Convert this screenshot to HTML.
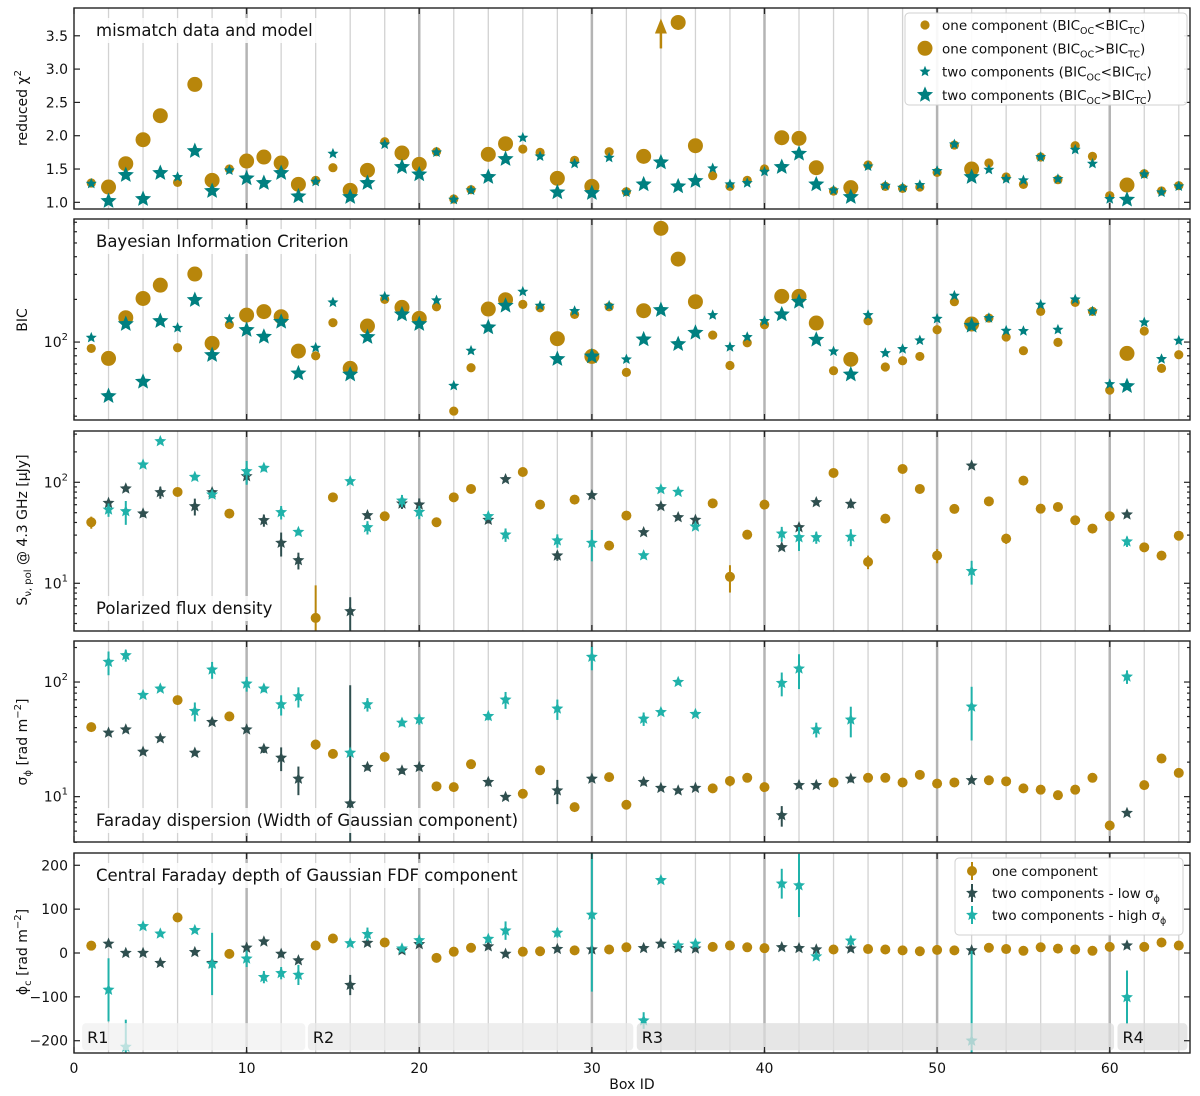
<!DOCTYPE html>
<html><head><meta charset="utf-8"><style>
html,body{margin:0;padding:0;background:#fff;}
svg{display:block;font-family:"DejaVu Sans","Liberation Sans",sans-serif;}
</style></head><body>
<svg id="chart" xmlns="http://www.w3.org/2000/svg" width="1200" height="1096" viewBox="0 0 1200 1096"></svg>
<script>
// ---------- data ----------
const boxes = Array.from({length:64},(_,i)=>i+1);
const twoBoxes = [2,3,4,5,7,8,10,11,12,13,16,17,19,20,24,25,28,30,33,34,35,36,41,42,43,45,52,61];
const oneBoxes = [1,6,9,14,15,18,21,22,23,26,27,29,31,32,37,38,39,40,44,46,47,48,49,50,51,53,54,55,56,57,58,59,60,62,63,64];
const chiOne = [1.29,1.23,1.58,1.94,2.30,1.30,2.77,1.33,1.50,1.62,1.68,1.59,1.27,1.33,1.52,1.18,1.48,1.91,1.74,1.57,1.76,1.05,1.19,1.72,1.88,1.80,1.75,1.36,1.63,1.24,1.76,1.16,1.69,null,3.70,1.85,1.40,1.24,1.33,1.50,1.97,1.96,1.52,1.17,1.22,1.56,1.24,1.21,1.23,1.45,1.86,1.50,1.59,1.38,1.27,1.68,1.34,1.85,1.69,1.10,1.26,1.43,1.17,1.25];
const chiTwo = [1.28,1.02,1.41,1.05,1.44,1.38,1.77,1.17,1.48,1.36,1.29,1.44,1.09,1.31,1.73,1.08,1.29,1.87,1.53,1.42,1.75,1.04,1.18,1.38,1.65,1.97,1.69,1.15,1.58,1.14,1.67,1.15,1.27,1.60,1.24,1.32,1.51,1.27,1.29,1.46,1.53,1.73,1.27,1.18,1.08,1.54,1.25,1.22,1.26,1.47,1.87,1.38,1.49,1.35,1.33,1.68,1.35,1.79,1.58,1.05,1.04,1.42,1.15,1.24];
const chiArrowBox = 34;
const chiArrowFrom = 3.31;
const chiArrowTo = 3.76;
const bicOne = [90.2,76.7,148.5,203,252,91.2,302,97.9,133,155,164,151,86.4,80,137,65.2,129.7,200,175.6,147,177.5,32.6,65.9,171,199,184.5,174.7,105.6,156.7,79.2,177.5,61.1,166.4,634,385,192.6,112,68.4,98.9,132.6,210,210,136.2,62.8,75.5,141.4,66.7,73.8,79.2,122.2,192.6,134,147.7,108.5,86.9,164.6,99.5,190.5,164.6,45.8,83.2,119.6,65.2,81.4];
const bicTwo = [107.3,41.6,134,52.5,140.7,126,198,81,145,121.6,109,139,60.1,91.2,190.5,59.1,108.5,209,156.7,134,197,49.2,86.9,126.9,180.5,226.6,180.5,75.9,165.5,79.2,180.5,75.5,104.4,168.2,96.8,116.4,155,92.2,108.5,140.7,156.7,192.6,103.9,85.9,59.1,155,83.6,89.3,102.7,146,212.4,130.4,147.7,120.2,119.6,183.4,122.2,200,164.6,50.5,48.9,137.6,75.9,102.2];
const fluxOne = [40.2,80.2,49.0,4.54,71.0,46.1,40.2,71.0,85.9,126.5,60.1,67.4,23.6,46.8,61.9,11.6,30.3,60.1,123.7,16.3,43.7,135.5,85.9,18.8,54.5,64.8,27.7,103.9,54.8,57.0,42.1,34.8,46.1,22.7,18.8,29.6];
const fluxOneErr = [5.5,3.7,3,5,2.7,2.8,1.8,3.2,3.9,4.8,2.7,2.6,1.1,1.8,2.8,3.5,2.8,2.7,4.7,2.5,2,5.1,3.9,3,2.1,3,3.2,4.7,2.5,2.6,2.6,1.6,1.8,0.9,0.7,1.4];
const fluxLow = [62.4,86.6,49.0,79.6,57.9,79.6,114.7,42.1,25.1,16.9,5.28,47.1,61.5,60.1,42.4,107.1,18.8,74.3,32.0,57.9,45.0,42.4,22.7,35.8,63.4,61.0,146.2,47.9];
const fluxLowErr = [4.7,4,3.7,10.9,11,6,17.4,5.8,6.7,3.2,2,3.6,7,9.1,3.2,4,2.1,2.3,1.2,2.6,1.7,1.9,0.9,1.6,2.4,5.6,6.7,1.5];
const fluxHigh = [53.6,51.6,149.6,254.7,112.9,75.5,128.5,138.7,50.5,32.2,102.3,35.8,65.8,50.8,46.1,30.3,26.5,25.1,18.9,85.2,80.2,36.4,31.0,28.5,28.5,28.8,13.2,25.9];
const fluxHighErr = [8.1,13.7,6.8,9.7,8.6,5.7,34,10.5,7.7,2.4,3.9,5.4,9,7.7,3.5,4.6,4,8.6,1.4,3.2,3,1.7,5.2,7.6,3.9,5.5,3.5,3];
const sigOne = [40.4,69.6,50.1,28.5,23.6,22.2,12.3,12.1,19.2,10.6,17.0,8.1,14.8,8.5,11.8,13.7,14.6,12.1,13.3,14.6,14.6,13.3,15.5,13.0,13.3,13.9,13.6,11.8,11.5,10.3,11.5,14.6,5.6,12.6,21.5,16.1];
const sigOneErr = [2.2,3.7,2.7,2.9,1,1.2,0.7,0.7,1,0.6,0.9,0.4,0.8,0.5,0.6,1.4,0.8,0.7,0.7,0.8,0.8,0.7,0.8,0.9,0.7,0.7,0.7,0.6,0.6,0.6,0.6,0.8,0.5,0.7,1.2,0.9];
const sigLow = [36.1,38.5,24.6,32.2,24.1,44.7,38.5,26.1,21.8,14.3,8.7,18.1,16.9,18.1,13.4,9.93,11.3,14.3,13.4,11.9,11.3,11.9,6.87,12.6,12.6,14.3,13.9,7.2];
const sigLowErr = [1.9,2.1,1.3,1.7,1,2.4,2.1,2.1,5.1,4,85,1.2,1.1,1.2,1.1,0.4,2.7,0.8,0.9,0.5,0.5,0.5,1.4,0.5,0.5,1,0.6,0.4];
const sigHigh = [149.6,171,77,87.4,55.8,128.2,96.7,87.4,63.8,74.9,24.1,63.8,44.1,47.2,50.4,70.1,58.5,165.5,47.8,54.6,100,52.5,98,130.8,38.5,46.9,60.9,111.3];
const sigHighErr = [35,20.6,3.1,3.5,10.5,21.5,14.3,5.9,12.8,15,1,8.6,3,4.8,4.1,11.8,11.8,38.9,6.4,2.2,4,2.1,23,44,5.7,14,30,15];
const phiOne = [16.7,81,-2,17,33,24,-11,3,12,3,4,6,8,13,14,17,13,11,8,9,8,6,4,7,6,12,9,5,13,10,8,5,14,14,24,17];
const phiLow = [21,0,0,-23,2,-23,12,26,-2,-17,-73,23,6,20,15,-2,9,8,11,21,11,10,13,11,8,10,6,17];
const phiLowErr = [6,6,6,6,6,6,8,6,8,6,23,6,4,4,5,4,4,4,4,4,4,4,4,4,4,4,4,5];
const phiHigh = [-84,-214,61,44,52,-25,-13,-55,-46,-50,22,43,10,29,32,51,46,87,-154,166,17,21,158,154,-8,28,-200,-101];
const phiHighErr = [72,62,6,5,6,71,19,14,14,23,5,15,5,6,8,21,11,175,19,5,6,8,34,72,6,11,205,61];
const regionNames = ['R1','R2','R3','R4'];
const regionStart = [0.47,13.55,32.6,60.45];
const regionEnd = [13.4,32.4,60.25,64.5];
const xTicks = [0,10,20,30,40,50,60];

// ---------- helpers ----------
const NS='http://www.w3.org/2000/svg';
const svg=document.getElementById('chart');
function mk(tag,attrs,parent){const e=document.createElementNS(NS,tag);for(const k in attrs)e.setAttribute(k,attrs[k]);(parent||svg).appendChild(e);return e;}
const X0=74, X1=1190, XMAX=64.65;
function xs(v){return X0+v/XMAX*(X1-X0);}
const P=[
 {top:8,bot:209,type:'lin',min:0.90,max:3.917},
 {top:219,bot:420,type:'log',min:28.2,max:738},
 {top:431,bot:631,type:'log',min:3.37,max:322},
 {top:641,bot:842,type:'log',min:4.02,max:228},
 {top:853,bot:1053,type:'lin',min:-228,max:228}];
function ys(p,v){
  if(p.type==='lin') return p.bot-(v-p.min)/(p.max-p.min)*(p.bot-p.top);
  if(v<=0) v=p.min*0.5;
  return p.bot-(Math.log10(v)-Math.log10(p.min))/(Math.log10(p.max)-Math.log10(p.min))*(p.bot-p.top);
}
function starPath(cx,cy,r){let d='';for(let i=0;i<10;i++){const a=-Math.PI/2+i*Math.PI/5;const rr=i%2?r*0.45:r;d+=(i?'L':'M')+(cx+rr*Math.cos(a)).toFixed(2)+' '+(cy+rr*Math.sin(a)).toFixed(2);}return d+'Z';}
const GOLD='#b8860b', TEAL='#008080', DARK='#2f4f4f', CYAN='#20b2aa';

function circle(g,cx,cy,r,col,name){
  const c=mk('circle',{cx:cx,cy:cy,r:r,fill:col},g);
  
  
  return c;
}
function star(g,cx,cy,r,col,name){
  const s=mk('path',{d:starPath(cx,cy,r),fill:col},g);
  
  
  return s;
}
function errbar(g,p,x,v,e,col,name){
  const y1=ys(p,v+e), y2=ys(p,Math.max(v-e,p.type==='log'?p.min*0.5:v-e));
  const l=mk('line',{x1:x,x2:x,y1:y1,y2:y2,stroke:col,'stroke-width':2},g);
  
  
}

// ---------- panels ----------
const panelNames=['reduced-chi2-panel','bic-panel','polarized-flux-panel','faraday-dispersion-panel','faraday-depth-panel'];
const groups=[];
P.forEach((p,i)=>{
  const cp=mk('clipPath',{id:'clip'+i});
  mk('rect',{x:X0,y:p.top,width:X1-X0,height:p.bot-p.top},cp);
  const g=mk('g',{});
  
  
  const inner=mk('g',{'clip-path':'url(#clip'+i+')'},g);
  // gridlines
  for(let b=2;b<=64;b+=2){
    const thick=b%10===0;
    const gl=mk('line',{x1:xs(b),x2:xs(b),y1:p.top,y2:p.bot,stroke:thick?'#b4b4b4':'#d2d2d2','stroke-width':thick?2.5:1.3},inner);
    
    
  }
  groups.push({g:g,inner:inner});
});

// panel 1: reduced chi2
(function(){
  const p=P[0], g=groups[0].inner;
  boxes.forEach((b,i)=>{
    const big=twoBoxes.includes(b);
    if(chiOne[i]!==null) circle(g,xs(b),ys(p,chiOne[i]),big?7.5:4.6,GOLD,'chi2-one-component-b'+b);
    star(g,xs(b),ys(p,chiTwo[i]),big?8.5:5.8,TEAL,'chi2-two-components-b'+b);
  });
  const ax=xs(chiArrowBox), yt=ys(p,chiArrowTo), yb=ys(p,chiArrowFrom);
  const ar=mk('g',{},g);
  
  
  mk('line',{x1:ax,x2:ax,y1:yb,y2:yt+14,stroke:GOLD,'stroke-width':2.5},ar);
  mk('path',{d:`M${ax} ${yt} L${ax-6} ${yt+15} L${ax+6} ${yt+15}Z`,fill:GOLD},ar);
})();

// panel 2: BIC
(function(){
  const p=P[1], g=groups[1].inner;
  boxes.forEach((b,i)=>{
    const big=twoBoxes.includes(b);
    circle(g,xs(b),ys(p,bicOne[i]),big?7.5:4.6,GOLD,'bic-one-component-b'+b);
    star(g,xs(b),ys(p,bicTwo[i]),big?8.5:5.8,TEAL,'bic-two-components-b'+b);
  });
})();

function drawThree(k,one,oneE,low,lowE,high,highE,pre){
  const p=P[k], g=groups[k].inner;
  oneBoxes.forEach((b,i)=>{
    errbar(g,p,xs(b),one[i],oneE[i],GOLD,pre+'-one-err-b'+b);
    circle(g,xs(b),ys(p,one[i]),5,GOLD,pre+'-one-component-b'+b);
  });
  twoBoxes.forEach((b,i)=>{
    errbar(g,p,xs(b),low[i],lowE[i],DARK,pre+'-low-err-b'+b);
    star(g,xs(b),ys(p,low[i]),6.3,DARK,pre+'-two-low-b'+b);
    errbar(g,p,xs(b),high[i],highE[i],CYAN,pre+'-high-err-b'+b);
    star(g,xs(b),ys(p,high[i]),6.3,CYAN,pre+'-two-high-b'+b);
  });
}
drawThree(2,fluxOne,fluxOneErr,fluxLow,fluxLowErr,fluxHigh,fluxHighErr,'flux');
drawThree(3,sigOne,sigOneErr,sigLow,sigLowErr,sigHigh,sigHighErr,'sigma');
drawThree(4,phiOne,oneBoxes.map(()=>4),phiLow,phiLowErr,phiHigh,phiHighErr,'phi');

// region bands in panel 5
(function(){
  const p=P[4], g=groups[4].inner;
  const fills=['rgba(240,240,240,0.75)','rgba(232,232,232,0.75)','rgba(222,222,222,0.75)','rgba(222,222,222,0.75)'];
  regionNames.forEach((n,i)=>{
    const rg=mk('g',{},g);
    
    
    const x1=xs(regionStart[i]), x2=xs(regionEnd[i]);
    mk('rect',{x:x1,y:ys(p,-160),width:x2-x1,height:ys(p,-222)-ys(p,-160),rx:4,fill:fills[i]},rg);
    const t=mk('text',{x:x1+5,y:ys(p,-191)+6,'font-size':16,fill:'#111'},rg);
    t.textContent=n;
  });
})();

// titles
const titles=['mismatch data and model','Bayesian Information Criterion','Polarized flux density','Faraday dispersion (Width of Gaussian component)','Central Faraday depth of Gaussian FDF component'];
const titleY=[30,241,608,820,875];
titles.forEach((t,i)=>{
  const g=groups[i].g;
  const tg=mk('g',{},g);
  
  
  const bg=mk('rect',{fill:'#fff','fill-opacity':0.85},tg);
  const tx=mk('text',{x:96,y:titleY[i]+6,'font-size':16.5,fill:'#111'},tg);
  tx.textContent=t;
  const bb=tx.getBBox();
  bg.setAttribute('x',bb.x-4);bg.setAttribute('y',bb.y-3);bg.setAttribute('width',bb.width+8);bg.setAttribute('height',bb.height+6);
});

// frames and ticks
P.forEach((p,i)=>{
  const g=groups[i].g;
  const ax=mk('g',{},g);
  
  
  function ytick(v,len,label,sup){
    const y=ys(p,v);
    if(y<p.top-0.5||y>p.bot+0.5) return;
    mk('line',{x1:X0,x2:X0+len,y1:y,y2:y,stroke:'#222','stroke-width':1.2},ax);
    mk('line',{x1:X1,x2:X1-len,y1:y,y2:y,stroke:'#222','stroke-width':1.2},ax);
    if(label!==undefined){
      const t=mk('text',{x:X0-6,y:y+5,'font-size':14,'text-anchor':'end',fill:'#111'},ax);
      if(sup){t.textContent=label;const s=mk('tspan',{'font-size':10,dy:-7},t);s.textContent=sup;}
      else t.textContent=label;
    }
  }
  if(i===0){[1.0,1.5,2.0,2.5,3.0,3.5].forEach(v=>ytick(v,6,v.toFixed(1)));}
  else if(i===4){[-200,-100,0,100,200].forEach(v=>ytick(v,6,(v<0?'\u2212'+(-v):''+v)));}
  else{
    for(let d=0;d<=3;d++){
      const base=Math.pow(10,d);
      ytick(base,6,'10',''+d);
      for(let m=2;m<=9;m++) ytick(m*base,3);
    }
  }
  // x ticks
  xTicks.forEach(v=>{
    mk('line',{x1:xs(v),x2:xs(v),y1:p.bot,y2:p.bot-6,stroke:'#222','stroke-width':1.2},ax);
    mk('line',{x1:xs(v),x2:xs(v),y1:p.top,y2:p.top+6,stroke:'#222','stroke-width':1.2},ax);
  });
  const fr=mk('rect',{x:X0,y:p.top,width:X1-X0,height:p.bot-p.top,fill:'none',stroke:'#222','stroke-width':1.4},g);
  
  
});

// x tick labels
const xl=mk('g',{});


xTicks.forEach(v=>{const t=mk('text',{x:xs(v),y:1073,'font-size':14,'text-anchor':'middle',fill:'#111'},xl);t.textContent=v;});
const xt=mk('text',{x:632,y:1089,'font-size':14,'text-anchor':'middle',fill:'#111'},xl);
xt.textContent='Box ID';

// y-axis titles
function ytitle(cy,parts,name){
  const t=mk('text',{transform:`translate(27,${cy}) rotate(-90)`,'font-size':14,'text-anchor':'middle',fill:'#111'});
  
  
  parts.forEach(pt=>{const s=mk('tspan',{},t);s.textContent=pt[0];if(pt[1]==='sub'){s.setAttribute('font-size',10);s.setAttribute('dy',4);}if(pt[1]==='sup'){s.setAttribute('font-size',10);s.setAttribute('dy',-6);}if(pt[1]==='back'){s.setAttribute('dy',pt[2]);}});
}
ytitle(108,[['reduced \u03c7'],['2','sup'],['','back',6]],'y-axis-title-chi2');
ytitle(320,[['BIC']],'y-axis-title-bic');
ytitle(530,[['S'],['\u03bd, pol','sub'],[' @ 4.3 GHz [\u03bcJy]','back',-4]],'y-axis-title-flux');
ytitle(742,[['\u03c3'],['\u03d5','sub'],['  [rad m','back',-4],['\u22122','sup'],[']','back',6]],'y-axis-title-sigma');
ytitle(952,[['\u03d5'],['c','sub'],['  [rad m','back',-4],['\u22122','sup'],[']','back',6]],'y-axis-title-phi');

// legend panel 1
(function(){
  const g=mk('g',{});
  
  
  mk('rect',{x:905,y:13,width:282,height:92,rx:4,fill:'#fff','fill-opacity':0.9,stroke:'#d0d0d0'},g);
  const rows=[['one component (BIC','<'],['one component (BIC','>'],['two components (BIC','<'],['two components (BIC','>']];
  rows.forEach((r,i)=>{
    const y=25+i*23.3;
    if(i===0) circle(g,925,y,4.6,GOLD,'legend-marker');
    if(i===1) circle(g,925,y,7.5,GOLD,'legend-marker');
    if(i===2) star(g,925,y,5.8,TEAL,'legend-marker');
    if(i===3) star(g,925,y,8.5,TEAL,'legend-marker');
    const t=mk('text',{x:942,y:y+5,'font-size':13.5,fill:'#111'},g);
    
    
    const a=mk('tspan',{},t);a.textContent=r[0];
    const b=mk('tspan',{'font-size':9.5,dy:4},t);b.textContent='OC';
    const c=mk('tspan',{dy:-4},t);c.textContent=r[1]+'BIC';
    const d=mk('tspan',{'font-size':9.5,dy:4},t);d.textContent='TC';
    const e=mk('tspan',{dy:-4},t);e.textContent=')';
  });
})();

// legend panel 5
(function(){
  const g=mk('g',{});
  
  
  mk('rect',{x:955,y:858,width:228,height:77,rx:4,fill:'#fff','fill-opacity':0.9,stroke:'#d0d0d0'},g);
  const labels=[['one component',''],['two components - low \u03c3','\u03d5'],['two components - high \u03c3','\u03d5']];
  const cols=[GOLD,DARK,CYAN];
  labels.forEach((l,i)=>{
    const y=871+i*22;
    mk('line',{x1:972,x2:972,y1:y-9,y2:y+9,stroke:cols[i],'stroke-width':2},g);
    if(i===0) circle(g,972,y,5,GOLD,'legend-marker'); else star(g,972,y,6.3,cols[i],'legend-marker');
    const t=mk('text',{x:992,y:y+5,'font-size':13.5,fill:'#111'},g);
    
    
    const a=mk('tspan',{},t);a.textContent=l[0];
    if(l[1]){const s=mk('tspan',{'font-size':9.5,dy:4},t);s.textContent=l[1];}
  });
})();
</script>
</body></html>
